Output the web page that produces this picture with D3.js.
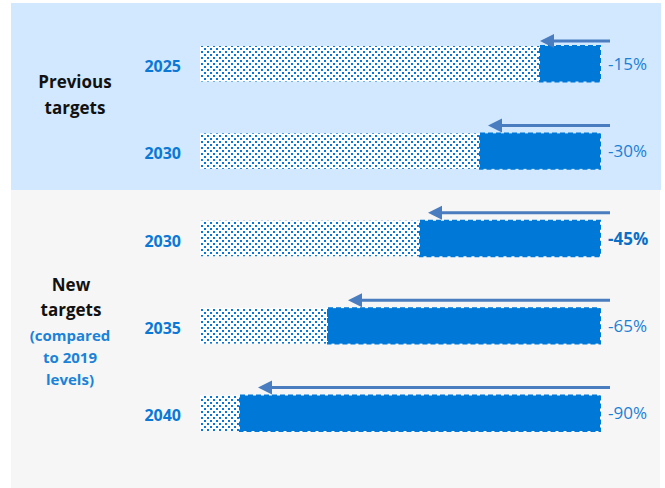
<!DOCTYPE html>
<html>
<head>
<meta charset="utf-8">
<script src="https://cdn.jsdelivr.net/npm/d3@7"></script>
<style>
  html, body { margin: 0; padding: 0; background: #ffffff; }
  svg { display: block; font-family: "Open Sans", Lato, sans-serif; }
</style>
</head>
<body>
<svg id="chart" width="665" height="488"></svg>
<script>
// ---- data ----
const rowKeys = ["prev2025", "prev2030", "new2030", "new2035", "new2040"];
const years = ["2025", "2030", "2030", "2035", "2040"];
const reductions = [15, 30, 45, 68, 90];
const arrowReach = [15, 28, 43, 63, 85.5];
const reductionLabels = ["-15%", "-30%", "-45%", "-65%", "-90%"];
const emphasised = [false, false, true, false, false];
const groupTitles = [["Previous", "targets"], ["New", "targets"]];
const groupNote = ["(compared", "to 2019", "levels)"];

const svg = d3.select("#chart");

// backgrounds
svg.append("rect").attr("x", 11).attr("y", 3).attr("width", 650).attr("height", 187).attr("fill", "#d1e8ff");
svg.append("rect").attr("x", 11).attr("y", 190).attr("width", 649).attr("height", 298).attr("fill", "#f6f6f6");

// pattern
const defs = svg.append("defs");
const pat = defs.append("pattern").attr("id", "dots").attr("patternUnits", "userSpaceOnUse")
  .attr("width", 6).attr("height", 6);
pat.append("rect").attr("width", 6).attr("height", 6).attr("fill", "#ffffff");
pat.append("rect").attr("x", 0).attr("y", 0).attr("width", 2).attr("height", 2).attr("fill", "#0a78d6");
pat.append("rect").attr("x", 3).attr("y", 3).attr("width", 2).attr("height", 2).attr("fill", "#0a78d6");

const x = d3.scaleLinear().domain([0, 100]).range([200, 600]);
const y = d3.scaleBand().domain(rowKeys).range([46, 431]).paddingInner(0.594).paddingOuter(0);

const rows = rowKeys.map((k, i) => ({ key: k, year: years[i], red: reductions[i], reach: arrowReach[i], label: reductionLabels[i], bold: emphasised[i] }));

const g = svg.append("g");

// dotted (remaining) part
g.selectAll("rect.remain").data(rows).join("rect").attr("class", "remain")
  .attr("x", x(0)).attr("y", d => y(d.key))
  .attr("width", d => x(100 - d.red) - x(0)).attr("height", y.bandwidth())
  .attr("fill", "url(#dots)");

// solid (reduction) part
g.selectAll("rect.cut").data(rows).join("rect").attr("class", "cut")
  .attr("x", d => x(100 - d.red)).attr("y", d => y(d.key))
  .attr("width", d => x(100) - x(100 - d.red)).attr("height", y.bandwidth())
  .attr("fill", "#0078d7")
  .attr("stroke", "#0078d7").attr("stroke-width", 2).attr("stroke-dasharray", "5,3");

// arrows
const arrowColor = "#4a7dbf";
rows.forEach((d, i) => {
  const ay = y(d.key) - (i === 0 ? 5 : 8);
  const tip = x(100 - d.reach);
  g.append("line").attr("x1", 610).attr("x2", tip + 12).attr("y1", ay).attr("y2", ay)
    .attr("stroke", arrowColor).attr("stroke-width", 3);
  g.append("path").attr("d", `M${tip},${ay} L${tip + 14},${ay - 7} L${tip + 14},${ay + 7} Z`)
    .attr("fill", arrowColor);
});

// year labels
g.selectAll("text.year").data(rows).join("text").attr("class", "year")
  .attr("x", 181).attr("y", d => y(d.key) + y.bandwidth() / 2 + 8)
  .attr("text-anchor", "end").attr("font-size", 16).attr("font-weight", 700)
  .attr("fill", "#0a78d6").text(d => d.year);

// percentage labels
g.selectAll("text.pct").data(rows).join("text").attr("class", "pct")
  .attr("x", 608).attr("y", d => y(d.key) + y.bandwidth() / 2 + 6)
  .attr("font-size", 17).attr("font-weight", d => d.bold ? 700 : 400)
  .attr("fill", d => d.bold ? "#0a6fc7" : "#1a80d6").text(d => d.label);

// group titles
const t1 = svg.append("text").attr("text-anchor", "middle")
  .attr("font-size", 17).attr("font-weight", 700).attr("fill", "#111");
t1.append("tspan").attr("x", 75).attr("y", 88).text(groupTitles[0][0]);
t1.append("tspan").attr("x", 75).attr("y", 114).text(groupTitles[0][1]);

const t2 = svg.append("text").attr("text-anchor", "middle")
  .attr("font-size", 17).attr("font-weight", 700).attr("fill", "#111");
t2.append("tspan").attr("x", 71).attr("y", 291).text(groupTitles[1][0]);
t2.append("tspan").attr("x", 71).attr("y", 316).text(groupTitles[1][1]);

const t3 = svg.append("text").attr("text-anchor", "middle")
  .attr("font-size", 15).attr("font-weight", 700).attr("fill", "#1a82d8");
groupNote.forEach((s, i) => t3.append("tspan").attr("x", 70).attr("y", 341 + i * 22).text(s));
</script>
</body>
</html>
